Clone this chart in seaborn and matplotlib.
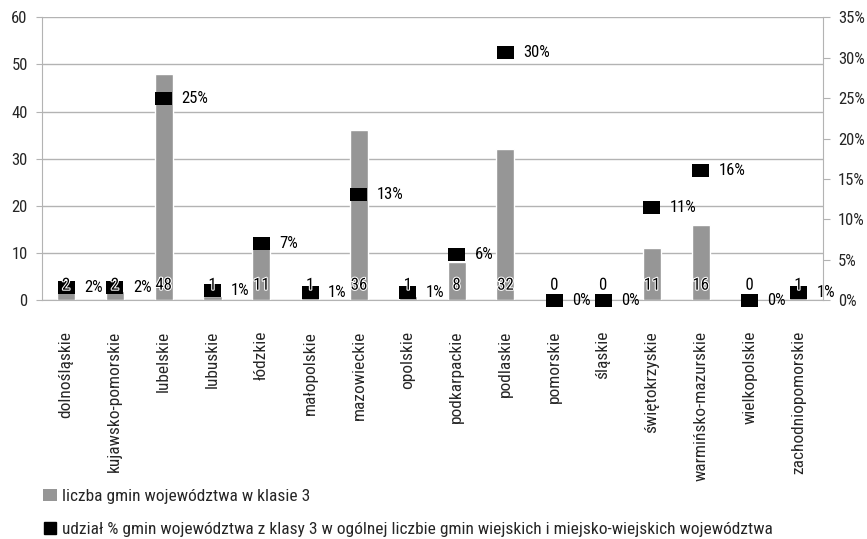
import matplotlib
matplotlib.use("Agg")
import matplotlib.pyplot as plt
import matplotlib.patheffects as pe
from matplotlib.ticker import FuncFormatter, MultipleLocator, FixedLocator
from matplotlib.patches import Patch
from matplotlib.lines import Line2D
import numpy as np
import pandas as pd
import seaborn as sns

categories = ["dolnośląskie", "kujawsko-pomorskie", "lubelskie", "lubuskie", "łódzkie",
              "małopolskie", "mazowieckie", "opolskie", "podkarpackie", "podlaskie",
              "pomorskie", "śląskie", "świętokrzyskie", "warmińsko-mazurskie",
              "wielkopolskie", "zachodniopomorskie"]
counts = [2, 2, 48, 1, 11, 1, 36, 1, 8, 32, 0, 0, 11, 16, 0, 1]
shares = [1.6, 1.6, 25.0, 1.2, 7.0, 0.9, 13.1, 1.0, 5.7, 30.6, 0.0, 0.0, 11.5, 16.0, 0.0, 1.0]
share_labels = ["2%", "2%", "25%", "1%", "7%", "1%", "13%", "1%", "6%", "30%",
                "0%", "0%", "11%", "16%", "0%", "1%"]
legend_bar = "liczba gmin województwa w klasie 3"
legend_marker = "udział % gmin województwa z klasy 3 w ogólnej liczbie gmin wiejskich i miejsko-wiejskich województwa"

sns.set_style("white")
plt.rcParams["font.family"] = ["Roboto Condensed", "DejaVu Sans"]
plt.rcParams["font.size"] = 12

df = pd.DataFrame({"woj": categories, "liczba": counts, "udzial": shares})

fig = plt.figure(figsize=(8.67, 5.39), dpi=100)
ax = fig.add_axes([0.048, 0.443, 0.901, 0.525])
grid_c = "#b3b3b3"

sns.barplot(data=df, x="woj", y="liczba", color="#969696", saturation=1,
            width=0.37, ax=ax, zorder=2)
ax.set_ylim(0, 60)
ax.set_xlim(-0.5, len(categories) - 0.5)
ax.yaxis.set_major_locator(MultipleLocator(10))
ax.grid(axis="y", color=grid_c, linewidth=1, zorder=0)
ax.set_axisbelow(True)
ax.set_xlabel("")
ax.set_ylabel("")
ax.set_xticks(range(len(categories)))
ax.set_xticklabels(categories, rotation=90, fontsize=12.5)
ax.tick_params(axis="x", length=0, pad=22)
ax.xaxis.set_minor_locator(FixedLocator(np.arange(-0.5, len(categories), 1.0)))
ax.tick_params(axis="x", which="minor", length=4, color=grid_c, direction="out")
ax.tick_params(axis="y", length=4, color=grid_c, labelsize=12, pad=6)
for s in ["top", "right"]:
    ax.spines[s].set_visible(False)
for s in ["left", "bottom"]:
    ax.spines[s].set_color(grid_c)

ax2 = ax.twinx()
rect = [(-1.3, -1.0), (1.3, -1.0), (1.3, 1.0), (-1.3, 1.0), (-1.3, -1.0)]
sns.scatterplot(data=df, x="woj", y="udzial", marker=rect, s=150, color="black",
                edgecolor="none", ax=ax2, zorder=3, legend=False)
for coll in ax2.collections:
    coll.set_clip_on(False)
ax2.set_ylim(0, 35)
ax2.yaxis.set_major_locator(MultipleLocator(5))
ax2.yaxis.set_major_formatter(FuncFormatter(lambda v, p: f"{int(round(v))}%"))
ax2.tick_params(axis="y", length=5, color=grid_c, labelsize=12, pad=6)
ax2.set_ylabel("")
ax2.set_xlabel("")
for s in ["top", "left", "bottom"]:
    ax2.spines[s].set_visible(False)
ax2.spines["right"].set_color(grid_c)

for i, (c, v, lab) in enumerate(zip(counts, shares, share_labels)):
    ax2.text(i, 1.6, str(c), transform=ax.transData, ha="center", va="bottom",
             fontsize=12, color="black", zorder=6,
             path_effects=[pe.withStroke(linewidth=1.5, foreground="white")])
    ax2.text(i + 0.37, v, lab, ha="left", va="center", fontsize=12, color="black", zorder=5)

h1 = Patch(facecolor="#969696", edgecolor="none")
h2 = Line2D([], [], marker="s", color="black", linestyle="none", markersize=8)
fig.legend([h1, h2], [legend_bar, legend_marker], loc="upper left",
           bbox_to_anchor=(0.05, 0.093), frameon=False, fontsize=12.5,
           handlelength=0.8, handletextpad=0.3, labelspacing=1.05, borderaxespad=0,
           borderpad=0)

fig.savefig("out.png", dpi=100)
